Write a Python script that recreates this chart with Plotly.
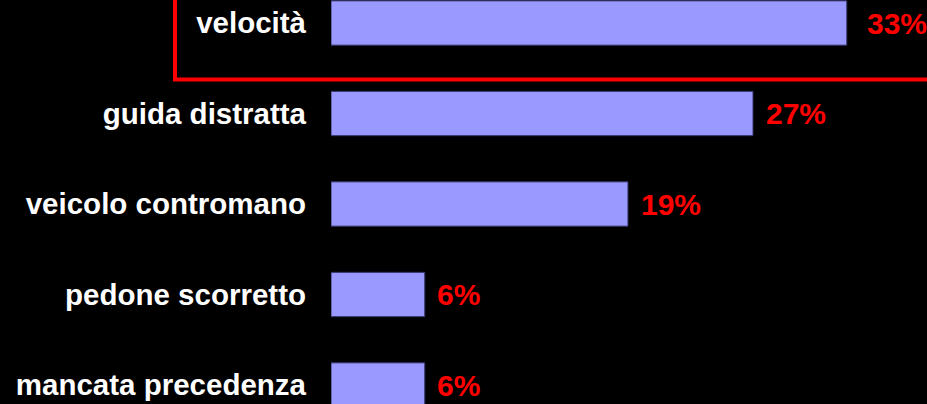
import plotly.graph_objects as go

categories = ["velocità", "guida distratta", "veicolo contromano", "pedone scorretto", "mancata precedenza"]
values = [33, 27, 19, 6, 6]
value_labels = ["33%", "27%", "19%", "6%", "6%"]

W, H = 927, 404
left = 331
plot_w = W - left
px_per_unit = 15.63
label_shifts = [18, 11, 11, 10, 10]

fig = go.Figure()
fig.add_trace(go.Bar(
    x=values, y=categories, orientation="h",
    marker=dict(color="#9999FF", line=dict(color="#333366", width=1)),
    width=0.49,
    hoverinfo="skip",
))

for v, c, t, s in zip(values, categories, value_labels, label_shifts):
    fig.add_annotation(x=v, y=c, text=t, showarrow=False, xanchor="left", yanchor="middle",
                       xshift=s, font=dict(family="Liberation Sans, Arial", size=30, color="#FF0000", weight="bold"))

pitch = 90.5
top_center = 23
y_top = -top_center / pitch
y_bot = (len(categories) - 1) + (H - (top_center + pitch * (len(categories) - 1))) / pitch

fig.add_shape(type="rect", xref="paper", yref="paper",
              x0=(175 - left) / plot_w, x1=1.2, y0=1 - 79.5 / H, y1=1.3,
              line=dict(color="#FF0000", width=4), fillcolor="rgba(0,0,0,0)", layer="above")

fig.update_layout(
    width=W, height=H,
    margin=dict(l=left, r=0, t=0, b=0, pad=0),
    paper_bgcolor="#000000", plot_bgcolor="#000000",
    showlegend=False,
    xaxis=dict(range=[0, plot_w / px_per_unit], visible=False, showgrid=False, zeroline=False, fixedrange=True),
    yaxis=dict(range=[y_bot, y_top], showgrid=False, zeroline=False, showline=False, ticks="",
               ticklabelstandoff=24,
               tickfont=dict(family="Liberation Sans, Arial", size=29.5, color="#FFFFFF", weight="bold"),
               categoryorder="array", categoryarray=categories),
)

fig.write_html("out.html", config={"displayModeBar": False},
               post_script="document.body.style.margin='0';document.body.style.background='#000';")
